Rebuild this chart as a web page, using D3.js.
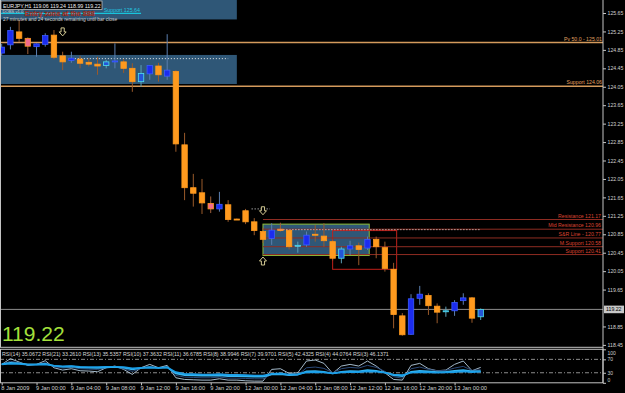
<!DOCTYPE html>
<html>
<head>
<meta charset="utf-8">
<script src="https://cdn.jsdelivr.net/npm/d3@7"></script>
<style>
  body { margin: 0; background: #000; }
  svg { display: block; }
</style>
</head>
<body>
<div id="chart"></div>
<script>
// EURJPY H1 candles, 8 Jan 20:00 .. 13 Jan 03:00 : [open, high, low, close]
const candles = [
  [124.78, 124.98, 124.72, 124.91], [124.96, 125.35, 124.86, 125.27], [125.24, 125.50, 125.02, 125.10],
  [125.10, 125.12, 124.76, 124.93], [124.92, 124.99, 124.70, 124.98], [124.97, 125.21, 124.92, 125.16],
  [125.17, 125.28, 124.65, 124.69], [124.72, 124.81, 124.41, 124.59], [124.62, 124.81, 124.57, 124.67],
  [124.65, 124.72, 124.45, 124.56], [124.58, 124.67, 124.49, 124.54], [124.54, 124.70, 124.31, 124.50],
  [124.51, 124.63, 124.45, 124.59], [124.59, 124.99, 124.45, 124.61], [124.59, 124.65, 124.35, 124.45],
  [124.45, 124.56, 123.94, 124.16], [124.16, 124.52, 124.05, 124.34], [124.33, 124.52, 124.20, 124.51],
  [124.50, 124.57, 124.16, 124.31], [124.28, 125.19, 124.20, 124.41], [124.38, 124.41, 122.64, 122.81],
  [122.79, 123.05, 121.59, 121.86], [121.86, 122.16, 121.45, 121.74], [121.75, 122.05, 121.29, 121.53],
  [121.52, 121.67, 121.31, 121.40], [121.40, 121.77, 121.34, 121.50], [121.49, 121.59, 121.12, 121.17],
  [121.18, 121.19, 121.16, 121.17], [121.36, 121.40, 121.07, 121.12], [121.12, 121.20, 120.83, 120.93],
  [120.91, 120.99, 120.66, 120.74], [120.76, 121.09, 120.62, 120.94], [120.96, 121.10, 120.91, 120.93],
  [120.93, 120.96, 120.52, 120.58], [120.60, 120.69, 120.45, 120.61], [120.62, 120.91, 120.58, 120.83],
  [120.85, 121.05, 120.69, 120.83], [120.81, 121.09, 120.58, 120.71], [120.69, 120.73, 120.28, 120.33],
  [120.33, 120.58, 120.22, 120.53], [120.53, 120.71, 120.40, 120.60], [120.60, 120.67, 120.18, 120.52],
  [120.55, 120.80, 120.51, 120.74], [120.74, 120.80, 120.33, 120.58], [120.56, 120.69, 120.04, 120.11],
  [120.09, 120.23, 118.81, 119.11], [119.08, 119.14, 118.65, 118.67], [118.68, 119.55, 118.67, 119.45],
  [119.46, 119.73, 119.32, 119.55], [119.52, 119.57, 119.10, 119.30], [119.29, 119.35, 118.92, 119.16],
  [119.18, 119.28, 119.06, 119.19], [119.19, 119.42, 119.08, 119.37], [119.41, 119.57, 119.32, 119.47],
  [119.47, 119.49, 118.93, 119.03], [119.06, 119.24, 118.99, 119.22]
];
// highlighted bars from the pattern indicator: p = pink, c = cyan
const barKind = "...p........c...c.......p.......p.c....c...........c...c".split("");

const priceTicks = [125.65, 125.25, 124.85, 124.45, 124.05, 123.65, 123.25, 122.85, 122.45,
  122.05, 121.65, 121.25, 120.85, 120.45, 120.05, 119.65, 118.85, 118.45];
const timeLabels = ["8 Jan 2009", "9 Jan 00:00", "9 Jan 04:00", "9 Jan 08:00", "9 Jan 12:00", "9 Jan 16:00",
  "9 Jan 20:00", "12 Jan 00:00", "12 Jan 04:00", "12 Jan 08:00", "12 Jan 12:00", "12 Jan 16:00",
  "12 Jan 20:00", "13 Jan 00:00"];
const lastPrice = 119.22;

// levels drawn on the chart
const pivotLevels = [{name: "Pv 50.0 - 125.01", price: 125.01}, {name: "Support 124.06", price: 124.06}];
const srLevels = [
  {name: "Resistance 121.17", price: 121.17}, {name: "Mid Resistance 120.96", price: 120.96},
  {name: "S&R Line - 120.77", price: 120.77}, {name: "M.Support 120.58", price: 120.58},
  {name: "Support 120.41", price: 120.41}
];
const supportTop = {name: "Support 125.64", price: 125.64, from: -0.5, to: 16};
// zones: bar range + price range
const zones = [
  {id: "top", b0: -0.5, b1: 27, p0: 126.0, p1: 125.51},
  {id: "range", b0: -0.5, b1: 27, p0: 124.74, p1: 124.11},
  {id: "green", b0: 30, b1: 42.2, p0: 121.07, p1: 120.39},
  {id: "red", b0: 38, b1: 45.35, p0: 120.93, p1: 120.09}
];
const dottedLines = [
  {b0: 8.4, b1: 26, price: 124.66}, {b0: 28.7, b1: 30.8, price: 121.40}, {b0: 32, b1: 55, price: 120.95}
];
const arrows = [{bar: 7, price: 125.24, dir: "down"}, {bar: 30, price: 121.36, dir: "down"}, {bar: 30, price: 120.27, dir: "up"}];

// RSI panel
const rsiLabels = ["RSI(14) 35.0672", "RSI(21) 33.2610", "RSI(13) 35.5357", "RSI(10) 37.3632", "RSI(11) 36.6785",
  "RSI(8) 38.9946", "RSI(7) 39.9701", "RSI(5) 42.4325", "RSI(4) 44.0764", "RSI(3) 46.1371"];
const rsi3 = [55, 72, 62, 52, 55, 66, 45, 38, 42, 36, 35, 33, 45, 50, 40, 25, 45, 55, 45, 52, 15, 10, 9, 8, 8, 12, 8, 8,
  6, 5, 5, 40, 42, 28, 30, 65, 68, 58, 28, 50, 55, 50, 65, 50, 30, 10, 8, 52, 58, 42, 36, 38, 55, 65, 36, 46];
const rsi8 = [56, 64, 60, 54, 55, 60, 48, 44, 46, 42, 41, 40, 45, 47, 42, 34, 43, 48, 44, 47, 22, 17, 16, 15, 15, 17, 14, 14,
  13, 12, 12, 25, 27, 22, 23, 45, 47, 43, 30, 42, 46, 44, 52, 46, 34, 18, 14, 42, 47, 40, 36, 37, 44, 49, 37, 39];
const rsi14 = [56, 60, 58, 55, 55, 57, 51, 48, 49, 46, 45, 44, 46, 47, 45, 40, 44, 46, 44, 46, 28, 23, 22, 21, 21, 22, 20, 20,
  19, 18, 18, 25, 26, 23, 24, 34, 35, 33, 28, 33, 35, 34, 38, 36, 31, 23, 20, 33, 36, 34, 32, 33, 36, 38, 34, 35];
const rsi21 = [55, 57, 56, 54, 54, 55, 51, 49, 50, 48, 47, 47, 48, 48, 47, 43, 45, 46, 45, 46, 32, 27, 26, 25, 25, 26, 24, 24,
  23, 22, 22, 27, 28, 25, 26, 31, 32, 31, 28, 31, 32, 32, 34, 33, 30, 25, 23, 30, 32, 31, 30, 31, 32, 34, 32, 33];
const rsiTicks = [100, 70, 30, 0];
const rsiLevels = [70, 30];

const W = 625, H = 393;
const AXIS_X = 603;
const FONT = "Liberation Sans, Arial, sans-serif";

const svg = d3.select("#chart").append("svg").attr("width", W).attr("height", H)
  .style("background", "#000").attr("font-family", FONT);

const x = d3.scaleLinear().domain([0, 55]).range([1.7, 480.7]);
const y = d3.scaleLinear().domain([118.45, 125.65]).range([344.9, 13]);
const yr = d3.scaleLinear().domain([0, 100]).range([382.8, 349.3]);

svg.append("clipPath").attr("id", "mainClip").append("rect")
  .attr("x", 0).attr("y", 0).attr("width", AXIS_X).attr("height", 347);
const main = svg.append("g").attr("clip-path", "url(#mainClip)");

// zones (boxes)
const zoneStyle = {
  top: {fill: "#2f5777", stroke: "none"},
  range: {fill: "#2f5777", stroke: "none"},
  green: {fill: "#2f5777", stroke: "#8fbf3a"},
  red: {fill: "none", stroke: "#c0201a"}
};
main.selectAll("rect.zone").data(zones).enter().append("rect")
  .attr("class", "zone")
  .attr("x", d => x(d.b0)).attr("width", d => x(d.b1) - x(d.b0))
  .attr("y", d => y(d.p0)).attr("height", d => y(d.p1) - y(d.p0))
  .attr("fill", d => zoneStyle[d.id].fill)
  .attr("stroke", d => zoneStyle[d.id].stroke).attr("stroke-width", 1);

// pivot / support lines (orange, full width)
main.selectAll("line.pivot").data(pivotLevels).enter().append("line")
  .attr("x1", 0).attr("x2", AXIS_X)
  .attr("y1", d => y(d.price)).attr("y2", d => y(d.price))
  .attr("stroke", "#d49a5c").attr("stroke-width", 1.4);
main.selectAll("text.pivot").data(pivotLevels).enter().append("text")
  .attr("x", AXIS_X - 1).attr("y", d => y(d.price) - 1.8)
  .attr("text-anchor", "end").attr("font-size", 5.2).attr("fill", "#e0a060")
  .text(d => d.name);

// S&R lines (dark red, from bar 30)
main.selectAll("line.sr").data(srLevels).enter().append("line")
  .attr("x1", x(30)).attr("x2", AXIS_X)
  .attr("y1", d => y(d.price)).attr("y2", d => y(d.price))
  .attr("stroke", "#8e2c22").attr("stroke-width", 1);
main.selectAll("text.sr").data(srLevels).enter().append("text")
  .attr("x", AXIS_X - 2).attr("y", d => y(d.price) - 1.8)
  .attr("text-anchor", "end").attr("font-size", 5.2).attr("fill", "#dc4330")
  .text(d => d.name);

// dotted white lines
main.selectAll("line.dot").data(dottedLines).enter().append("line")
  .attr("x1", d => x(d.b0)).attr("x2", d => x(d.b1))
  .attr("y1", d => y(d.price)).attr("y2", d => y(d.price))
  .attr("stroke", "#e8e8e8").attr("stroke-width", 1).attr("stroke-dasharray", "1,2");

// top support line (cyan)
main.append("line")
  .attr("x1", x(supportTop.from)).attr("x2", x(supportTop.to))
  .attr("y1", y(supportTop.price)).attr("y2", y(supportTop.price))
  .attr("stroke", "#18c4dc").attr("stroke-width", 1.2);

// current price line
main.append("line").attr("x1", 0).attr("x2", AXIS_X)
  .attr("y1", y(lastPrice)).attr("y2", y(lastPrice))
  .attr("stroke", "#8c8c8c").attr("stroke-width", 1);

// candles
const bodyW = 5.4;
const candleG = main.selectAll("g.candle").data(candles).enter().append("g").attr("class", "candle");
function candleColors(d, i) {
  const up = d[3] >= d[0];
  if (barKind[i] === "p") return {wick: "#a0603a", fill: "#f26a8c", stroke: "#ff9a20"};
  if (barKind[i] === "c") return {wick: "#5aa0b8", fill: "#2456d8", stroke: "#4fe0ef"};
  return up ? {wick: "#5b7fb0", fill: "#1c2cf0", stroke: "#3a5cff"}
            : {wick: "#9a5a2a", fill: "#ff9a1e", stroke: "#ff9a1e"};
}
candleG.append("line")
  .attr("x1", (d, i) => x(i)).attr("x2", (d, i) => x(i))
  .attr("y1", d => y(d[1])).attr("y2", d => y(d[2]))
  .attr("stroke", (d, i) => candleColors(d, i).wick).attr("stroke-width", 1);
candleG.append("rect")
  .attr("x", (d, i) => x(i) - bodyW / 2).attr("width", bodyW)
  .attr("y", d => y(Math.max(d[0], d[3])))
  .attr("height", d => Math.max(1, Math.abs(y(d[0]) - y(d[3]))))
  .attr("fill", (d, i) => candleColors(d, i).fill)
  .attr("stroke", (d, i) => candleColors(d, i).stroke).attr("stroke-width", 0.8);

// hollow arrows
function arrowPath(cx, cy, dir) {
  const s = dir === "down" ? 1 : -1;
  const t = cy - 4 * s, m = cy, b = cy + 4 * s;
  return `M${cx - 1.6},${t} L${cx + 1.6},${t} L${cx + 1.6},${m} L${cx + 3.5},${m} L${cx},${b} ` +
    `L${cx - 3.5},${m} L${cx - 1.6},${m} Z`;
}
main.selectAll("path.arrow").data(arrows).enter().append("path")
  .attr("d", d => arrowPath(x(d.bar), y(d.price), d.dir))
  .attr("fill", "#000").attr("stroke", "#e6dca0").attr("stroke-width", 0.9);

// header texts
const hdr = svg.append("g");
hdr.append("rect").attr("x", 1).attr("y", 1).attr("width", 101).attr("height", 8.5)
  .attr("fill", "#000").attr("stroke", "#bdbdbd").attr("stroke-width", 0.8);
hdr.append("text").attr("x", 3).attr("y", 7.6).attr("font-size", 5.3).attr("fill", "#f0f0f0")
  .text("EURJPY,H1  119.06 119.24 118.99 119.22");
hdr.append("text").attr("x", 2.5).attr("y", 13.4).attr("font-size", 4.2).attr("fill", "#d8d8d8").text("DOBS v1.0");
hdr.append("text").attr("x", 24.5).attr("y", 16.3).attr("font-size", 7.0).attr("font-weight", "bold")
  .attr("fill", "#e24c3a").attr("stroke", "#5a1a14").attr("stroke-width", 0.3).text("Entry zone at the 888");
hdr.append("text").attr("x", 140).attr("y", 12).attr("text-anchor", "end").attr("font-size", 5.3)
  .attr("fill", "#20c8e0").text(supportTop.name);
hdr.append("text").attr("x", 3).attr("y", 21).attr("font-size", 4.9).attr("fill", "#d0d0d0")
  .text("27 minutes and 24 seconds remaining until bar close");

// big last price
svg.append("text").attr("x", 2).attr("y", 340.5).attr("font-size", 21).attr("fill", "#a4e03c")
  .text(lastPrice.toFixed(2));

// RSI panel
const rsiG = svg.append("g");
const rsiLine = d3.line().x((d, i) => x(i)).y(d => yr(d)).curve(d3.curveLinear);
rsiG.append("path").datum(rsi21.map((v, i) => [v, rsi14[i]]))
  .attr("d", d3.area().x((d, i) => x(i)).y0(d => yr(d[0])).y1(d => yr(d[1])))
  .attr("fill", "#1aa6e8").attr("opacity", 0.9);
rsiG.selectAll("line.lvl").data(rsiLevels).enter().append("line")
  .attr("x1", 0).attr("x2", AXIS_X).attr("y1", d => yr(d)).attr("y2", d => yr(d))
  .attr("stroke", "#b0b0b0").attr("stroke-width", 0.8).attr("stroke-dasharray", "4,2,1,2");
const rsiSeries = [
  {data: rsi3, color: "#b4cde0", w: 0.9},
  {data: rsi8, color: "#2a4a7a", w: 1},
  {data: rsi14, color: "#36b6f2", w: 1.6},
  {data: rsi21, color: "#1a9ee8", w: 1.6}
];
rsiG.selectAll("path.rsi").data(rsiSeries).enter().append("path")
  .attr("d", d => rsiLine(d.data)).attr("fill", "none")
  .attr("stroke", d => d.color).attr("stroke-width", d => d.w);
rsiG.append("text").attr("x", 2).attr("y", 356.3).attr("font-size", 5.3).attr("fill", "#d8d8d8")
  .text(rsiLabels.join("  "));

// frames
const frame = svg.append("g").attr("fill", "none").attr("stroke", "#c4c4c4").attr("stroke-width", 1);
frame.append("line").attr("x1", 0).attr("x2", AXIS_X).attr("y1", 347.3).attr("y2", 347.3);
frame.append("rect").attr("x", 0.5).attr("y", 349.3).attr("width", AXIS_X - 0.5).attr("height", 33.5);
frame.append("line").attr("x1", 0.5).attr("x2", 0.5).attr("y1", 0).attr("y2", 347.3);
frame.append("line").attr("x1", AXIS_X).attr("x2", AXIS_X).attr("y1", 0).attr("y2", 383);

// price axis
const yAxis = svg.append("g").attr("transform", `translate(${AXIS_X},0)`)
  .call(d3.axisRight(y).tickValues(priceTicks).tickSize(3).tickPadding(1.5).tickFormat(d3.format(".2f")));
yAxis.select(".domain").remove();
yAxis.selectAll("line").attr("stroke", "#c4c4c4");
yAxis.selectAll("text").attr("font-size", 5.2).attr("fill", "#d0d0d0").attr("font-family", FONT);

// last price tag on axis
svg.append("rect").attr("x", AXIS_X + 1).attr("y", y(lastPrice) - 3.8).attr("width", 20).attr("height", 7.6)
  .attr("fill", "#c8c8c8");
svg.append("text").attr("x", AXIS_X + 3).attr("y", y(lastPrice) + 1.9).attr("font-size", 5.2)
  .attr("fill", "#000").text(lastPrice.toFixed(2));

// rsi axis
const rAxis = svg.append("g").attr("transform", `translate(${AXIS_X},0)`)
  .call(d3.axisRight(yr).tickValues(rsiTicks).tickSize(3).tickPadding(1.5));
rAxis.select(".domain").remove();
rAxis.selectAll("line").attr("stroke", "#c4c4c4");
rAxis.selectAll("text").attr("font-size", 5).attr("fill", "#d0d0d0").attr("font-family", FONT)
  .attr("dy", d => d === 100 ? "0.95em" : d === 0 ? "-0.3em" : "0.32em");

// time axis
const tickBars = timeLabels.map((t, i) => i * 4);
const xAxis = svg.append("g").attr("transform", "translate(0,382.8)")
  .call(d3.axisBottom(x).tickValues(tickBars).tickSize(2.5).tickPadding(1)
    .tickFormat((d, i) => timeLabels[i]));
xAxis.select(".domain").remove();
xAxis.selectAll("line").attr("stroke", "#c4c4c4");
xAxis.selectAll("text").attr("font-size", 5.7).attr("fill", "#d0d0d0").attr("font-family", FONT)
  .attr("text-anchor", "start").attr("dx", -1);
</script>
</body>
</html>
